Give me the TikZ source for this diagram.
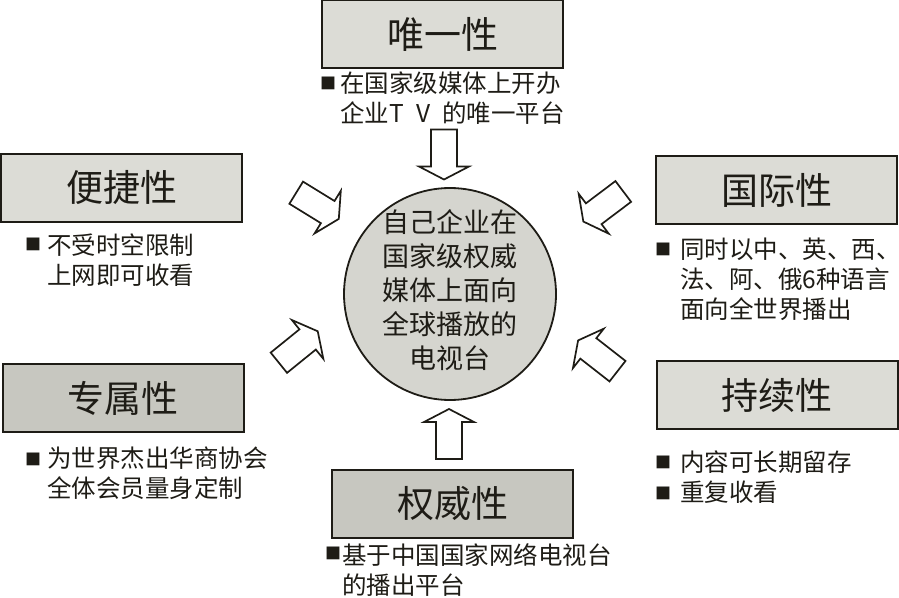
\documentclass[tikz,border=0pt]{standalone}
\usepackage{fontspec}
\setmainfont{Noto Sans CJK SC}
\definecolor{ink}{HTML}{1E1C16}
\definecolor{boxlight}{HTML}{DCDCD6}
\definecolor{boxdark}{HTML}{C7C7C0}
\definecolor{circfill}{HTML}{D5D5CF}
\tikzset{
 titlebox/.style={draw=ink, line width=2pt, minimum width=241pt, minimum height=68pt, inner sep=0pt, font=\fontsize{37}{40}\selectfont, text=ink},
 light/.style={fill=boxlight},
 darkfill/.style={fill=boxdark},
 bul/.style={font=\fontsize{16}{16}\selectfont, text=ink, inner sep=0pt},
 desc/.style={anchor=west, align=left, font=\fontsize{24.5}{30}\selectfont, text=ink, inner sep=0pt},
 blockarr/.pic={
   \draw[draw=ink, fill=white, line width=1.7pt, line join=miter]
     (-25,-13) -- (12,-13) -- (12,-25) -- (25,0) -- (12,25) -- (12,13) -- (-25,13) -- cycle;
 },
}
\begin{document}
\begin{tikzpicture}[x=1pt,y=-1pt]
\useasboundingbox (0,0) rectangle (899,597);
% centre
\node[circle, draw=ink, line width=1.8pt, fill=circfill, minimum size=212pt, inner sep=0pt] (hub) at (450,294) {};
\node[align=center, font=\fontsize{27}{34}\selectfont, text=ink, inner sep=0pt] (hubtext) at (450,290) {自己企业在\\国家级权威\\媒体上面向\\全球播放的\\电视台};
% title boxes
\node[titlebox, light] (uniq) at (442.5,34) {唯一性};
\node[titlebox, light] (conv) at (121.5,188) {便捷性};
\node[titlebox, light] (intl) at (776.5,190) {国际性};
\node[titlebox, darkfill] (excl) at (123,398) {专属性};
\node[titlebox, light] (cont) at (777,395) {持续性};
\node[titlebox, darkfill] (auth) at (452.5,504) {权威性};
% descriptions
\node[bul] (b1) at (328,83) {■};
\node[desc] (d1) at (340,98) {在国家级媒体上开办\\企业T\enspace V\enspace 的唯一平台};
\node[bul] (b2) at (33,244) {■};
\node[desc] (d2) at (47,260) {不受时空限制\\上网即可收看};
\node[bul] (b3) at (663,249) {■};
\node[desc] (d3) at (680,279) {同时以中、英、西、\\法、阿、俄6种语言\\面向全世界播出};
\node[bul] (b4) at (33,459) {■};
\node[desc] (d4) at (47,473) {为世界杰出华商协会\\全体会员量身定制};
\node[bul] (b5a) at (663,462) {■};
\node[bul] (b5b) at (663,493) {■};
\node[desc] (d5) at (680,477) {内容可长期留存\\重复收看};
\node[bul] (b6) at (333,553) {■};
\node[desc] (d6) at (342,570) {基于中国国家网络电视台\\的播出平台};
% block arrows
\pic[rotate=-90] (a1) at (444,154.5) {blockarr};
\pic[rotate=90] (a2) at (449,434) {blockarr};
\pic[rotate=-31.6] (a3) at (317.5,205.8) {blockarr};
\pic[rotate=217] (a4) at (603.3,206.5) {blockarr};
\pic[rotate=39] (a5) at (298.3,347) {blockarr};
\pic[rotate=142] (a6) at (597.8,355.8) {blockarr};
\end{tikzpicture}
\end{document}
